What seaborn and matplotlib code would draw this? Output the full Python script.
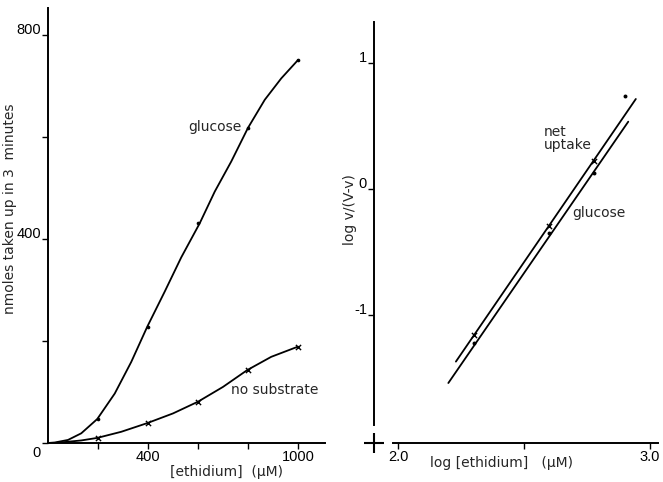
import matplotlib
matplotlib.use("Agg")
import matplotlib.pyplot as plt
import matplotlib.transforms as mtransforms
import seaborn as sns

# ---------------- data: left panel ----------------
conc_points = [200, 400, 600, 800, 1000]
glucose_points = [47, 228, 431, 618, 751]
nosub_points = [10, 39, 81, 143, 189]

glucose_curve_x = [0, 27, 80, 133, 197, 267, 333, 397, 467, 533, 607,
                   667, 733, 800, 867, 933, 1000]
glucose_curve_y = [0, 1, 6, 19, 47, 97, 159, 228, 297, 364, 431,
                   493, 552, 618, 673, 715, 751]
nosub_curve_x = [0, 27, 133, 197, 293, 397, 500, 600, 700, 797, 893, 1000]
nosub_curve_y = [0, 0, 5, 10, 22, 39, 58, 81, 110, 143, 169, 189]

left_yticks = [0, 200, 400, 600, 800]
left_yticklabels = ["0", "", "400", "", "800"]
left_xticks = [200, 400, 600, 800, 1000]
left_xticklabels = ["", "400", "", "", "1000"]

# ---------------- data: right panel ----------------
log_conc_net = [2.30, 2.60, 2.78]
net_uptake_y = [-1.16, -0.29, 0.22]
log_conc_glu = [2.30, 2.60, 2.78, 2.90]
glucose_log_y = [-1.22, -0.35, 0.13, 0.74]

net_line_x = [2.23, 2.944]
net_line_y = [-1.37, 0.714]
glu_line_x = [2.20, 2.914]
glu_line_y = [-1.54, 0.534]

right_yticks = [-1, 0, 1]
right_yticklabels = ["-1", "0", "1"]
right_xticks = [2.0, 2.5, 3.0]
right_xticklabels = ["2.0", "", "3.0"]

# ---------------- figure ----------------
sns.set_style("ticks")
plt.rcParams["font.family"] = ["DejaVu Sans"]
plt.rcParams["font.size"] = 10

W, H = 663, 482
fig = plt.figure(figsize=(W / 100, H / 100), dpi=100)


def px_axes(x0, x1, ytop, ybot):
    return fig.add_axes([x0 / W, 1 - ybot / H, (x1 - x0) / W, (ybot - ytop) / H])


lw = 1.3
k = "black"
tick_font = "Liberation Sans"
tick_size = 10.5

# ---- left panel ----
axL = px_axes(48, 325, 8, 443)
sns.lineplot(x=glucose_curve_x, y=glucose_curve_y, ax=axL, color=k, lw=lw,
             sort=False, estimator=None)
sns.lineplot(x=nosub_curve_x, y=nosub_curve_y, ax=axL, color=k, lw=lw,
             sort=False, estimator=None)
sns.scatterplot(x=conc_points, y=glucose_points, ax=axL, color=k, marker="o",
                s=7, linewidth=0, zorder=5)
sns.scatterplot(x=conc_points, y=nosub_points, ax=axL, color=k, marker="x",
                s=14, linewidth=1.0, zorder=5)
axL.set_xlim(0, 1108)
axL.set_ylim(0, 853)
axL.set_yticks(left_yticks)
axL.set_yticklabels(left_yticklabels, fontfamily=tick_font, fontsize=tick_size)
axL.set_xticks(left_xticks)
axL.set_xticklabels(left_xticklabels, fontfamily=tick_font, fontsize=tick_size)
axL.tick_params(direction="out", length=4, width=1, colors=k, pad=1)
for sp in ["top", "right"]:
    axL.spines[sp].set_visible(False)
for sp in ["left", "bottom"]:
    axL.spines[sp].set_linewidth(1.4)
    axL.spines[sp].set_color(k)
for lab, t in zip(axL.get_yticklabels(), left_yticks):
    dy = -6 / 72 if t == 0 else 5 / 72
    lab.set_transform(lab.get_transform() + mtransforms.ScaledTranslation(0, dy, fig.dpi_scale_trans))
axL.set_xlabel("")
axL.set_ylabel("")
axL.text(560, 620, "glucose", ha="left", va="center", fontsize=10)
axL.text(732, 104, "no substrate", ha="left", va="center", fontsize=10)
fig.text(10 / W, 1 - 209 / H, "nmoles taken up in 3  minutes", rotation=90,
         ha="center", va="center", fontsize=10)
fig.text(227 / W, 1 - 472 / H, "[ethidium]  (\u03bcM)", ha="center", va="center", fontsize=10)

# ---- right panel ----
axR = px_axes(374, 658, 22, 443)
sns.lineplot(x=net_line_x, y=net_line_y, ax=axR, color=k, lw=lw, sort=False, estimator=None)
sns.lineplot(x=glu_line_x, y=glu_line_y, ax=axR, color=k, lw=lw, sort=False, estimator=None)
sns.scatterplot(x=log_conc_net, y=net_uptake_y, ax=axR, color=k, marker="x",
                s=14, linewidth=1.0, zorder=5)
sns.scatterplot(x=log_conc_glu, y=glucose_log_y, ax=axR, color=k, marker="o",
                s=8, linewidth=0, zorder=5)
axR.set_xlim(1.905, 3.032)
axR.set_ylim(-2.016, 1.325)
axR.set_yticks(right_yticks)
axR.set_yticklabels(right_yticklabels, fontfamily=tick_font, fontsize=tick_size)
axR.set_xticks(right_xticks)
axR.set_xticklabels(right_xticklabels, fontfamily=tick_font, fontsize=tick_size)
axR.tick_params(direction="out", length=4, width=1, colors=k, pad=1)
for sp in ["top", "right"]:
    axR.spines[sp].set_visible(False)
for sp in ["left", "bottom"]:
    axR.spines[sp].set_linewidth(1.4)
    axR.spines[sp].set_color(k)
axR.spines["left"].set_bounds(-1.87, 1.325)
axR.spines["bottom"].set_bounds(1.98, 3.032)
for lab in axR.get_yticklabels():
    lab.set_transform(lab.get_transform() + mtransforms.ScaledTranslation(0, 5 / 72, fig.dpi_scale_trans))
# axis-break cross at the origin corner
axR.plot([0], [0], marker="+", markersize=14, mew=1.5, color=k,
         transform=axR.transAxes, clip_on=False)
axR.set_xlabel("")
axR.set_ylabel("")
axR.text(2.58, 0.40, "net\nuptake", ha="left", va="center", fontsize=10, linespacing=0.95)
axR.text(2.69, -0.19, "glucose", ha="left", va="center", fontsize=10)
fig.text(350 / W, 1 - 210 / H, "log v/(V-v)", rotation=90, ha="center", va="center", fontsize=10)
fig.text(502 / W, 1 - 463 / H, "log [ethidium]   (\u03bcM)", ha="center", va="center", fontsize=10)

fig.savefig("out.png", dpi=100, facecolor="white")
